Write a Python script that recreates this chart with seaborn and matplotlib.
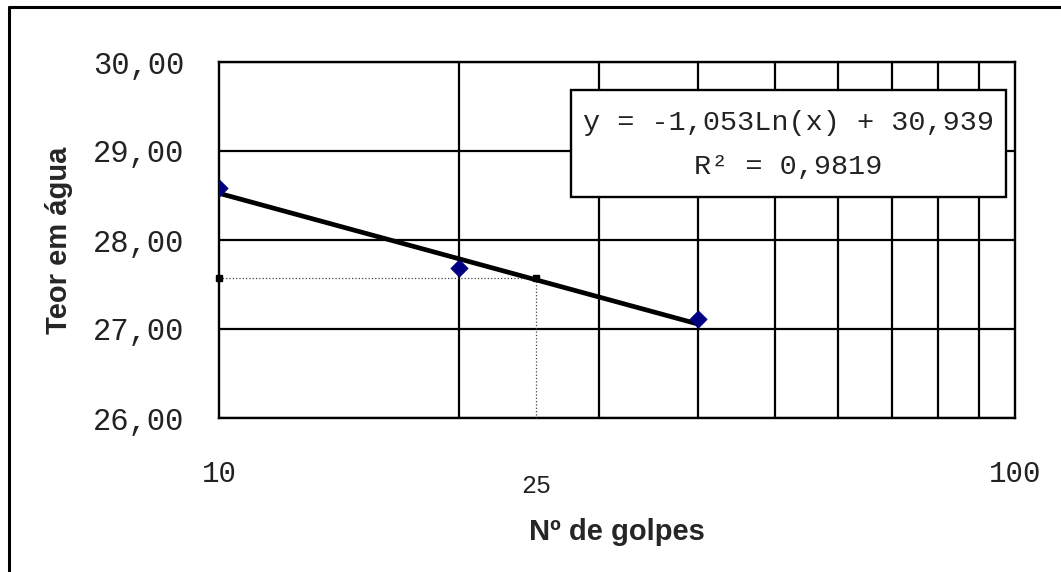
import numpy as np
import pandas as pd
import matplotlib
matplotlib.use("Agg")
import matplotlib.pyplot as plt
import matplotlib.ticker as mticker
import matplotlib.transforms as mtransforms
from matplotlib.lines import Line2D
from matplotlib.patches import Rectangle
import seaborn as sns

# dados do ensaio (limite de liquidez)
golpes = [10, 20, 40]
teor_agua = [28.58, 27.68, 27.11]
golpes_ref = 25
teor_ref = 27.57
eq_texto = "y = -1,053Ln(x) + 30,939"
r2_texto = "R² = 0,9819"
y_ticks = [26, 27, 28, 29, 30]
x_ticks = [10, 100]
x_minor = [20, 30, 40, 50, 60, 70, 80, 90]

sns.set_theme(style="white")
plt.rcParams['font.family'] = ['Liberation Mono', 'DejaVu Sans Mono']

MONO = ['Liberation Mono', 'DejaVu Sans Mono']
SANS = ['Liberation Sans', 'DejaVu Sans']

df = pd.DataFrame({'golpes': golpes, 'teor': teor_agua})

fig = plt.figure(figsize=(10.61, 5.72), dpi=100)
ax = fig.add_axes([219 / 1061, 1 - 418 / 572, 796 / 1061, 356 / 572])

# linha de tendência logarítmica
sns.regplot(data=df, x='golpes', y='teor', logx=True, ci=None, scatter=False,
            truncate=True, ax=ax, line_kws=dict(color='black', lw=3.4, zorder=4))
sns.scatterplot(data=df, x='golpes', y='teor', marker='D', s=75, color='#000080',
                edgecolor='#000080', ax=ax, zorder=5)

# linhas de referência para 25 golpes
ax.plot([golpes[0], golpes_ref], [teor_ref, teor_ref], ls=':', lw=0.9, color='#444444', zorder=3)
ax.plot([golpes_ref, golpes_ref], [teor_ref, y_ticks[0]], ls=':', lw=0.9, color='#444444',
        zorder=3, clip_on=False)
ax.plot([golpes[0], golpes_ref], [teor_ref, teor_ref], ls='none', marker='s', ms=5,
        color='black', zorder=6, clip_on=False)

ax.set_xscale('log')
ax.set_xlim(10, 100)
ax.set_ylim(26, 30)

ax.xaxis.set_major_locator(mticker.FixedLocator(x_ticks))
ax.xaxis.set_minor_locator(mticker.FixedLocator(x_minor))
ax.xaxis.set_major_formatter(mticker.FixedFormatter([str(v) for v in x_ticks]))
ax.xaxis.set_minor_formatter(mticker.NullFormatter())
ax.set_yticks(y_ticks)
ax.yaxis.set_major_formatter(mticker.FuncFormatter(lambda v, p: f"{v:.2f}".replace('.', ',')))

ax.tick_params(axis='x', which='major', direction='out', length=11, width=1.5, color='black',
               pad=19, labelsize=21)
ax.tick_params(axis='x', which='minor', length=0)
ax.tick_params(axis='y', direction='out', length=11, width=1.5, color='black',
               pad=14, labelsize=22)
for lab in ax.get_xticklabels() + ax.get_yticklabels():
    lab.set_fontfamily(MONO)
    lab.set_color('#222222')

ax.grid(False)
ax.grid(True, which='major', axis='y', color='black', lw=1.6)
ax.grid(True, which='minor', axis='x', color='black', lw=1.6)
for sp in ax.spines.values():
    sp.set_color('black')
    sp.set_linewidth(1.7)

# rótulo 25
trans = mtransforms.blended_transform_factory(ax.transData, ax.transAxes)
ax.text(golpes_ref, -0.19, "25", transform=trans, ha='center', va='center',
        fontsize=18, family=MONO, color='#222222')

ax.set_xlabel("Nº de golpes", fontsize=21, fontweight='bold', family=SANS)
ax.set_ylabel("Teor em água", fontsize=21, fontweight='bold', family=SANS)
ax.xaxis.set_label_coords(0.5, -0.281)
ax.yaxis.set_label_coords(-0.184, 0.5)

# caixa da equação
ax.add_patch(Rectangle((0.442, 0.621), 0.547, 0.300, transform=ax.transAxes,
                       facecolor='white', edgecolor='black', lw=1.7, zorder=7))
ax.text(0.7155, 0.829, eq_texto, transform=ax.transAxes, ha='center', va='center',
        fontsize=20.5, family=MONO, color='#222222', zorder=8)
ax.text(0.7155, 0.705, r2_texto, transform=ax.transAxes, ha='center', va='center',
        fontsize=20.5, family=MONO, color='#222222', zorder=8)

# moldura exterior
fig.add_artist(Line2D([9 / 1061, 9 / 1061], [0, 1 - 7 / 572], transform=fig.transFigure,
                      color='black', lw=2.2))
fig.add_artist(Line2D([9 / 1061, 1], [1 - 7 / 572, 1 - 7 / 572], transform=fig.transFigure,
                      color='black', lw=2.2))

fig.savefig("out.png", dpi=100, facecolor='white')
